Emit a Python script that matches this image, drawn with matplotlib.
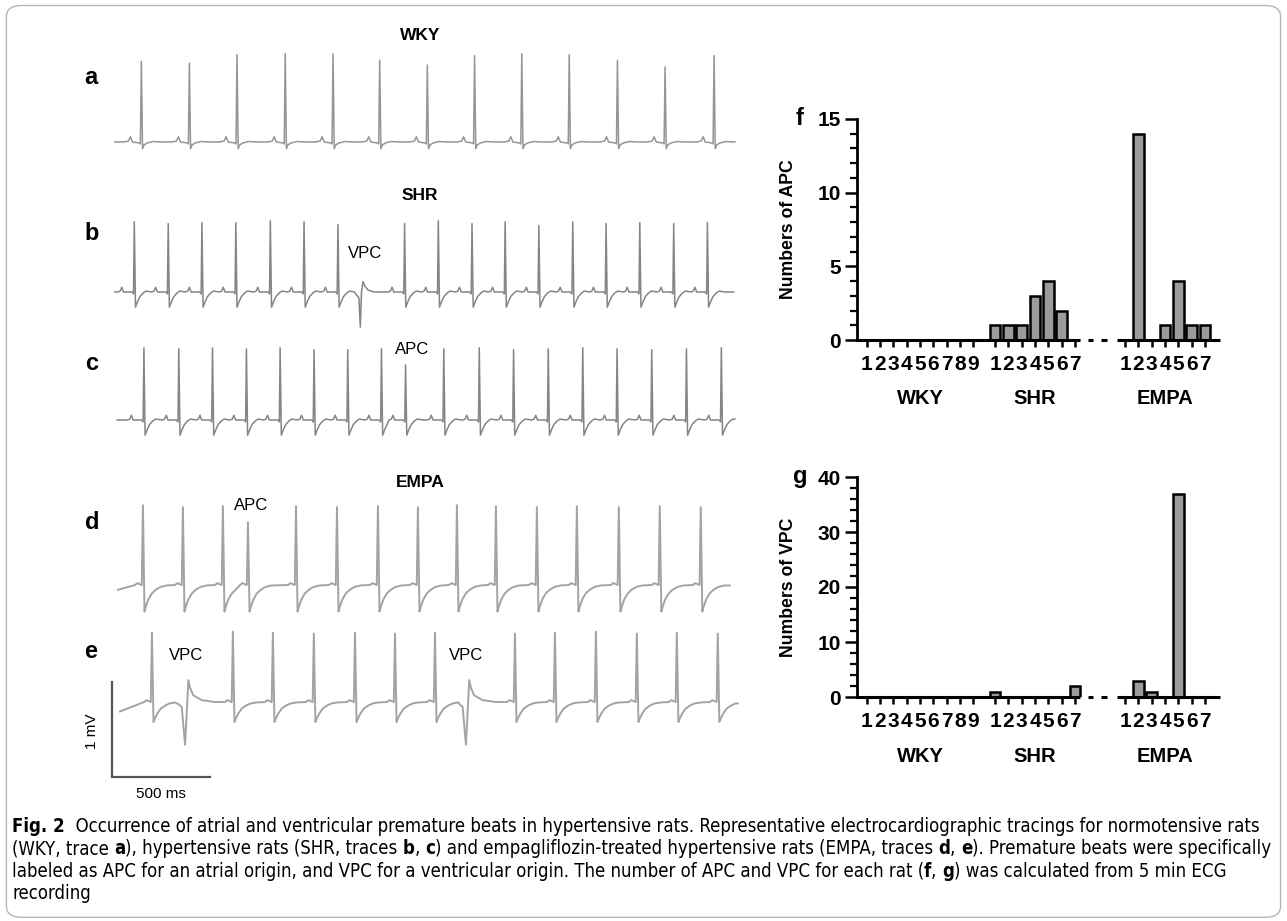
import os
import numpy as np
import matplotlib
matplotlib.use("Agg")
import matplotlib.pyplot as plt
from matplotlib import font_manager
from matplotlib.font_manager import FontProperties
from matplotlib.patches import FancyBboxPatch
from matplotlib.ticker import MultipleLocator

plt.rcParams['font.family'] = ['Liberation Sans', 'DejaVu Sans']

W, H = 1287, 921
MS_PER_PX = 500 / 98.0     # from the 500 ms scale bar
MV_PER_PX = 1 / 95.0       # from the 1 mV scale bar

# ---------------- ECG beats (R time in ms, R height in mV) ----------------
a_t = [160, 405, 648, 894, 1138, 1376, 1619, 1860, 2101, 2343, 2589, 2832, 3082]
a_amp = [0.85, 0.83, 0.92, 0.93, 0.93, 0.86, 0.81, 0.91, 0.93, 0.92, 0.86, 0.79, 0.91]
a_kind = ['N'] * 13

b_t = [124, 297, 469, 642, 818, 990, 1163, 1277, 1503, 1675, 1847, 2016, 2188,
       2361, 2531, 2703, 2876, 3048]
b_amp = [0.74, 0.72, 0.73, 0.73, 0.75, 0.74, 0.71, 0, 0.72, 0.75, 0.72, 0.74,
         0.70, 0.74, 0.72, 0.73, 0.72, 0.73]
b_kind = ['N'] * 7 + ['V'] + ['N'] * 10

c_t = [173, 351, 523, 696, 868, 1041, 1213, 1385, 1508, 1703, 1884, 2059, 2236,
       2412, 2587, 2764, 2941, 3119]
c_amp = [0.76, 0.75, 0.76, 0.75, 0.76, 0.74, 0.74, 0.75, 0.58, 0.75, 0.76, 0.74,
         0.75, 0.76, 0.75, 0.74, 0.75, 0.76]
c_kind = ['N'] * 18

d_t = [168, 372, 576, 704, 949, 1158, 1367, 1571, 1770, 1969, 2178, 2382, 2596,
       2805, 3014]
d_amp = [0.84, 0.82, 0.83, 0.66, 0.83, 0.82, 0.83, 0.82, 0.84, 0.83, 0.82, 0.83,
         0.82, 0.83, 0.82]
d_kind = ['N'] * 15

e_t = [214, 383, 627, 831, 1040, 1250, 1454, 1658, 1816, 2066, 2270, 2479, 2688,
       2892, 3101]
e_amp = [0.73, 0, 0.74, 0.73, 0.72, 0.73, 0.72, 0.73, 0, 0.72, 0.73, 0.74, 0.72,
         0.73, 0.72]
e_kind = ['N', 'V'] + ['N'] * 6 + ['V'] + ['N'] * 6

# beat shapes: (offset ms, value mV); NaN marks the R peak
R = np.nan
tmpl_wky = {'N': ([-90, -66, -56, -45, -12, -5, 0, 6, 14, 30, 60, 100],
                  [0, 0.01, 0.055, 0, -0.01, -0.02, R, -0.07, -0.03, -0.01, 0.005, 0])}
tmpl_shr = {'N': ([-85, -72, -64, -55, -12, -4, 0, 6, 15, 28, 45, 60, 90],
                  [0, 0.01, 0.05, 0, 0, -0.02, R, -0.16, -0.11, -0.05, -0.01, 0.01, 0]),
            'V': ([-30, -20, -7, 0, 6, 14, 24, 40, 70],
                  [0, -0.03, -0.06, -0.37, 0, 0.11, 0.06, 0.02, 0])}
tmpl_d = {'N': ([-40, -28, -18, -6, 0, 8, 16, 28, 45, 65, 90, 120],
                [0, 0.02, 0.01, 0, R, -0.28, -0.22, -0.15, -0.09, -0.05, -0.02, -0.005])}
tmpl_e = {'N': ([-40, -28, -18, -6, 0, 8, 16, 28, 45, 65, 90, 120],
                [0, 0.02, 0.01, 0, R, -0.21, -0.17, -0.12, -0.07, -0.04, -0.015, -0.005]),
          'V': ([-30, -17, 0, 17, 25, 42, 85, 150],
                [-0.03, -0.05, -0.45, 0.23, 0.15, 0.07, 0.02, 0])}

# bar chart data
wky_apc = [0, 0, 0, 0, 0, 0, 0, 0, 0]
shr_apc = [1, 1, 1, 3, 4, 2, 0]
empa_apc = [0, 14, 0, 1, 4, 1, 1]
wky_vpc = [0, 0, 0, 0, 0, 0, 0, 0, 0]
shr_vpc = [1, 0, 0, 0, 0, 0, 2]
empa_vpc = [0, 3, 1, 0, 37, 0, 0]
groups = ['WKY', 'SHR', 'EMPA']

# caption, as (text, bold) pieces per line
caption = [
    [("Fig. 2", True), ("  Occurrence of atrial and ventricular premature beats in hypertensive rats. "
                        "Representative electrocardiographic tracings for normotensive rats", False)],
    [("(WKY, trace ", False), ("a", True), ("), hypertensive rats (SHR, traces ", False), ("b", True),
     (", ", False), ("c", True), (") and empagliflozin-treated hypertensive rats (EMPA, traces ", False),
     ("d", True), (", ", False), ("e", True), ("). Premature beats were specifically", False)],
    [("labeled as APC for an atrial origin, and VPC for a ventricular origin. The number of APC and "
      "VPC for each rat (", False), ("f", True), (", ", False), ("g", True),
     (") was calculated from 5 min ECG", False)],
    [("recording", False)],
]


def build(t0, t1, v0, times, amps, kinds, tmpls):
    xs, ys = [t0], [v0]
    for i, (t, amp, k) in enumerate(zip(times, amps, kinds)):
        off, val = tmpls[k]
        nxt = times[i + 1] + tmpls[kinds[i + 1]][0][0] if i + 1 < len(times) else t1
        for o, v in zip(off, val):
            tt = t + o
            if tt <= xs[-1] or tt >= nxt or tt >= t1:
                continue
            xs.append(tt)
            ys.append(amp if np.isnan(v) else v)
    xs.append(t1)
    ys.append(ys[-1])
    return np.array(xs), np.array(ys)


def fx(x):
    return x / W


def fy(y):
    return 1 - y / H


fig = plt.figure(figsize=(W / 100, H / 100), dpi=100)
renderer = fig.canvas.get_renderer()

# border
fig.patches.append(FancyBboxPatch((0.005, 0.004), 0.99, 0.99,
                                  boxstyle="round,pad=0,rounding_size=0.012",
                                  transform=fig.transFigure, fill=False,
                                  ec='#b5b5b5', lw=1.0))

# ---------------- ECG panel ----------------
ax = fig.add_axes([0, 0, 1, 1])
ax.set_xlim(-110 * MS_PER_PX, (W - 110) * MS_PER_PX)
ax.set_ylim(0, H * MV_PER_PX)
ax.axis('off')

traces = [
    # (baseline px, start ms, end ms, start mV, data, templates, colour, lw)
    (142, 25, 3188, 0.0, (a_t, a_amp, a_kind), tmpl_wky, '#959595', 1.1),
    (292, 25, 3182, 0.0, (b_t, b_amp, b_kind), tmpl_shr, '#858585', 1.1),
    (420, 36, 3188, 0.0, (c_t, c_amp, c_kind), tmpl_shr, '#858585', 1.1),
    (585, 41, 3162, -0.05, (d_t, d_amp, d_kind), tmpl_d, '#a3a3a3', 1.4),
    (702, 51, 3203, -0.1, (e_t, e_amp, e_kind), tmpl_e, '#a3a3a3', 1.4),
]
for base_px, t0, t1, v0, (tt, aa, kk), tm, col, lw in traces:
    xs, ys = build(t0, t1, v0, tt, aa, kk, tm)
    ax.plot(xs, ys + (H - base_px) * MV_PER_PX, color=col, lw=lw,
            solid_joinstyle='round')

# scale bar: 500 ms x 1 mV
sb_t0 = (112 - 110) * MS_PER_PX
sb_y0 = (H - 777) * MV_PER_PX
ax.plot([sb_t0, sb_t0, sb_t0 + 500], [sb_y0 + 1, sb_y0, sb_y0],
        color='#555555', lw=1.6, solid_joinstyle='miter')
fig.text(fx(92), fy(731), '1 mV', rotation=90, ha='center', va='center', fontsize=11)
fig.text(fx(161), fy(794), '500 ms', ha='center', va='center', fontsize=11)

for s, x, y in [('WKY', 420, 35), ('SHR', 420, 195), ('EMPA', 420, 482)]:
    fig.text(fx(x), fy(y), s, ha='center', va='center', fontsize=12.5, fontweight='bold')
for s, x, y in [('a', 91, 77), ('b', 92, 234), ('c', 92, 363), ('d', 92, 522), ('e', 91, 651)]:
    fig.text(fx(x), fy(y), s, ha='center', va='center', fontsize=17, fontweight='bold')
for s, x, y in [('VPC', 365, 253), ('APC', 412, 349), ('APC', 251, 505),
                ('VPC', 186, 656), ('VPC', 466, 656)]:
    fig.text(fx(x), fy(y), s, ha='center', va='center', fontsize=12)

# ---------------- bar charts ----------------
pos_w = np.arange(9)
pos_s = 9.625 + np.arange(7)
pos_e = 19.375 + np.arange(7)
all_pos = np.concatenate([pos_w, pos_s, pos_e])
tick_lbls = [str(i + 1) for i in range(9)] + [str(i + 1) for i in range(7)] * 2
centers = [pos_w.mean(), pos_s.mean(), pos_e.mean()]


def bar_panel(ytop, ybot, vals, ymax, major, minor, ylabel, letter, letter_y):
    bx = fig.add_axes([fx(856.7), fy(ybot), (1220 - 856.7) / W, (ybot - ytop) / H])
    bx.set_xlim(-0.75, 26.5)
    bx.set_ylim(0, ymax)
    heights = np.concatenate(vals)
    bx.bar(all_pos, heights, width=0.78, color='#9b9b9b', edgecolor='black',
           linewidth=1.8, zorder=3)
    for s in ['top', 'right', 'bottom']:
        bx.spines[s].set_visible(False)
    bx.spines['left'].set_linewidth(2)
    # x axis line with a break between SHR and EMPA
    for xa, xb in [(-0.75, 16.0), (16.6, 17.0), (17.6, 18.0), (18.8, 26.5)]:
        bx.plot([xa, xb], [0, 0], color='black', lw=2.2, clip_on=False, zorder=4,
                solid_capstyle='butt')
    bx.set_xticks(all_pos)
    bx.set_xticklabels(tick_lbls, fontsize=15, fontweight='bold')
    bx.tick_params(axis='x', direction='out', length=5, width=1.8, pad=6)
    bx.yaxis.set_major_locator(MultipleLocator(major))
    bx.yaxis.set_minor_locator(MultipleLocator(minor))
    bx.tick_params(axis='y', which='major', direction='out', length=8.5, width=1.8,
                   pad=3, labelsize=15)
    bx.tick_params(axis='y', which='minor', direction='out', length=5, width=1.6)
    for lb in bx.get_yticklabels():
        lb.set_fontweight('bold')
    bx.set_ylabel(ylabel, fontsize=12.7, fontweight='bold')
    bx.yaxis.set_label_coords(-0.163, 0.5)
    for g, c in zip(groups, centers):
        bx.annotate(g, xy=(c, 0), xycoords=('data', 'axes fraction'),
                    xytext=(0, -59 * 0.72), textcoords='offset points',
                    ha='center', va='center', fontsize=14.5, fontweight='bold')
    fig.text(fx(800), fy(letter_y), letter, ha='center', va='center',
             fontsize=17, fontweight='bold')
    return bx


bar_panel(119, 340, [wky_apc, shr_apc, empa_apc], 15, 5, 1, 'Numbers of APC', 'f', 118)
bar_panel(477, 697, [wky_vpc, shr_vpc, empa_vpc], 40, 10, 2, 'Numbers of VPC', 'g', 476)


# ---------------- caption ----------------
def find_condensed():
    prefs = ['liberationsansnarrow', 'dejavusanscondensed', 'notosanscondensed',
             'opensanscondensed', 'robotocondensed', 'latocondensed']
    skip = ('italic', 'oblique', 'light', 'medium', 'semi', 'extra', 'black', 'thin', 'heavy')
    files = [f.fname for f in font_manager.fontManager.ttflist]
    for p in prefs:
        reg = bold = None
        for fn in files:
            b = os.path.basename(fn).lower().replace('-', '').replace('_', '')
            if not b.startswith(p) or any(k in b for k in skip):
                continue
            if 'bold' in b:
                bold = bold or fn
            else:
                reg = reg or fn
        if reg and bold:
            return reg, bold
    return None, None


reg_path, bold_path = find_condensed()


def cap_fp(bold, size):
    if reg_path:
        return FontProperties(fname=bold_path if bold else reg_path, size=size)
    return FontProperties(family='Liberation Sans', weight='bold' if bold else 'normal',
                          size=size)


def seg_width(s, fp):
    t = fig.text(0, 0, '|' + s + '|', fontproperties=fp)
    w1 = t.get_window_extent(renderer=renderer).width
    t.set_text('||')
    w0 = t.get_window_extent(renderer=renderer).width
    t.remove()
    return w1 - w0


widths = [sum(seg_width(s, cap_fp(bd, 10)) for s, bd in line) for line in caption]
cap_size = 10 * 1262 / max(widths)
for i, line in enumerate(caption):
    x = 12.0
    y = 832 + 22.4 * i
    for s, bd in line:
        fp = cap_fp(bd, cap_size)
        fig.text(fx(x), fy(y), s, fontproperties=fp, ha='left', va='baseline')
        x += seg_width(s, fp)

fig.savefig('out.png', dpi=100)
